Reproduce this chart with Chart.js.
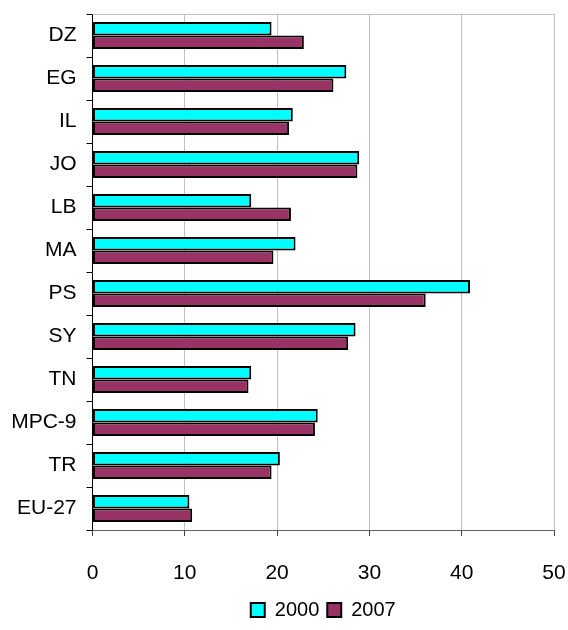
<!DOCTYPE html>
<html>
<head>
  <meta charset="UTF-8">
  <title>2000 vs 2007</title>
  <script src="https://cdn.jsdelivr.net/npm/chart.js"></script>
  <style>
    body {
      margin: 0;
      padding: 0;
      background: #ffffff;
    }
    #wrap {
      width: 568px;
      height: 630px;
    }
  </style>
</head>
<body>
  <div id="wrap"><canvas id="chart" width="568" height="630"></canvas></div>

  <script>
    const categories = ['DZ', 'EG', 'IL', 'JO', 'LB', 'MA', 'PS', 'SY', 'TN', 'MPC-9', 'TR', 'EU-27'];
    const values2000 = [19.4, 27.5, 21.7, 28.9, 17.2, 22.0, 40.9, 28.5, 17.2, 24.4, 20.3, 10.5];
    const values2007 = [22.9, 26.1, 21.3, 28.7, 21.5, 19.6, 36.1, 27.7, 16.9, 24.1, 19.4, 10.8];
    const xTicks = [0, 10, 20, 30, 40, 50];

    // top edge of the plot area (gray, like the gridlines)
    const frameTop = {
      id: 'frameTop',
      beforeDatasetsDraw(chart) {
        const a = chart.chartArea;
        const c = chart.ctx;
        c.save();
        c.strokeStyle = '#c0c0c0';
        c.lineWidth = 1;
        c.beginPath();
        c.moveTo(a.left, a.top + 0.5);
        c.lineTo(a.right, a.top + 0.5);
        c.stroke();
        c.restore();
      }
    };

    Chart.defaults.font.family = "'Liberation Sans', Arial, sans-serif";
    Chart.defaults.font.size = 21;
    Chart.defaults.color = '#000';

    new Chart(document.getElementById('chart'), {
      type: 'bar',
      data: {
        labels: categories,
        datasets: [
          {
            label: '2000',
            data: values2000,
            backgroundColor: '#00ffff',
            borderColor: '#000',
            borderWidth: 2,
            borderSkipped: false
          },
          {
            label: '2007',
            data: values2007,
            backgroundColor: '#993366',
            borderColor: '#000',
            borderWidth: 2,
            borderSkipped: false
          }
        ]
      },
      options: {
        indexAxis: 'y',
        responsive: false,
        animation: false,
        categoryPercentage: 0.63,
        barPercentage: 1,
        layout: {
          padding: { top: 14, right: 14, left: 0, bottom: 0 }
        },
        plugins: {
          legend: {
            position: 'bottom',
            fullSize: false,
            labels: {
              boxWidth: 14,
              boxHeight: 14,
              padding: 8,
              font: { size: 20 }
            }
          },
          tooltip: { enabled: false }
        },
        scales: {
          x: {
            min: 0,
            max: 50,
            afterBuildTicks: (scale) => {
              scale.ticks = xTicks.map(v => ({ value: v }));
            },
            afterFit: (scale) => {
              scale.height = 62;
              scale.paddingLeft = 0;
              scale.paddingRight = 0;
            },
            grid: {
              color: '#c0c0c0',
              tickColor: '#404040',
              tickLength: 6
            },
            border: { color: '#606060', width: 1 },
            ticks: { padding: 25, color: '#000' }
          },
          y: {
            afterFit: (scale) => {
              scale.width = 92.5;
              scale.paddingTop = 0;
              scale.paddingBottom = 0;
            },
            grid: {
              offset: true,
              drawOnChartArea: false,
              tickColor: '#000',
              tickLength: 6
            },
            border: { color: '#000', width: 1 },
            ticks: { padding: 10, color: '#000' }
          }
        }
      },
      plugins: [frameTop]
    });
  </script>
</body>
</html>
